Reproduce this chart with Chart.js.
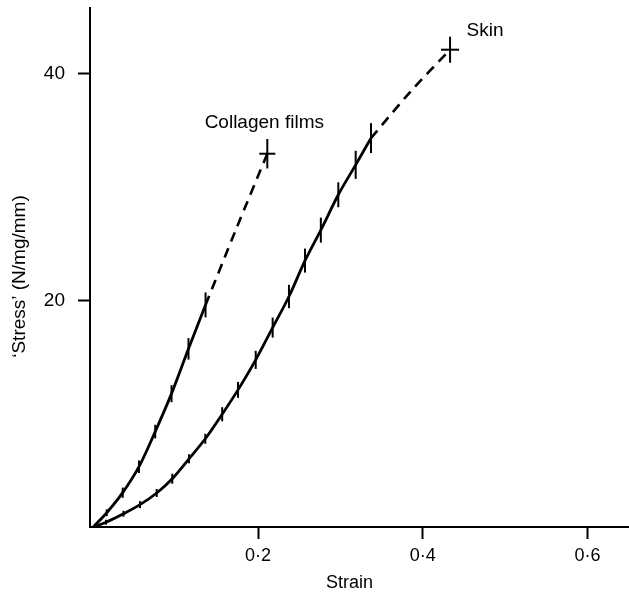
<!DOCTYPE html>
<html>
<head>
<meta charset="utf-8">
<script src="https://cdn.jsdelivr.net/npm/chart.js@4/dist/chart.umd.min.js"></script>
<style>
  html, body { margin: 0; padding: 0; background: #fff; }
  #wrap { width: 629px; height: 594px; position: relative; }
</style>
</head>
<body>
<div id="wrap"><canvas id="chart"></canvas></div>
<script>
// data
const collagenStrain = [0, 0.0163, 0.0357, 0.0555, 0.0752, 0.0950, 0.1156, 0.1363];
const collagenStress = [0, 1.26, 3.03, 5.32, 8.42, 11.77, 15.72, 19.60];
const collagenError  = [0, 0.3, 0.45, 0.55, 0.6, 0.75, 0.95, 1.1];
const collagenDashStrain = [0.1363, 0.1735, 0.2113];
const collagenDashStress = [19.60, 26.30, 32.94];

const skinStrain = [0, 0.0154, 0.0367, 0.0567, 0.0770, 0.0959, 0.1162, 0.1360, 0.1565,
  0.1757, 0.1972, 0.2178, 0.2376, 0.2571, 0.2763, 0.2975, 0.3186, 0.3372];
const skinStress = [0, 0.42, 1.17, 1.97, 3.00, 4.26, 6.02, 7.79, 9.95,
  12.10, 14.75, 17.60, 20.34, 23.51, 26.20, 29.32, 31.96, 34.32];
const skinError  = [0, 0.22, 0.26, 0.31, 0.35, 0.44, 0.4, 0.44, 0.62,
  0.7, 0.8, 0.88, 1.03, 1.06, 1.1, 1.1, 1.24, 1.32];
const skinDashStrain = [0.3372, 0.3854, 0.4332];
const skinDashStress = [34.32, 38.44, 42.12];

// end points drawn as crosses: [collagen, skin]
const endLabels = ["Collagen films", "Skin"];
const endStressError = [1.3, 1.15];
const endStrainError = [0.0097, 0.011];

const xTicks = [0.2, 0.4, 0.6];
const yTicks = [20, 40];
const xTitle = "Strain";
const yTitle = "\u2018Stress\u2019 (N/mg/mm)";

const FONT = "'Liberation Sans', Arial, sans-serif";

function pts(xs, ys) {
  return xs.map((x, i) => ({ x: x, y: ys[i] }));
}

const errorBars = {
  id: "errorBars",
  afterDatasetsDraw(chart) {
    const ctx = chart.ctx;
    const xs = chart.scales.x, ys = chart.scales.y;
    ctx.save();
    ctx.strokeStyle = "#000";
    ctx.lineWidth = 2;
    const vbar = (x, y, e) => {
      if (!e) return;
      const px = xs.getPixelForValue(x);
      ctx.beginPath();
      ctx.moveTo(px, ys.getPixelForValue(y - e));
      ctx.lineTo(px, ys.getPixelForValue(y + e));
      ctx.stroke();
    };
    collagenStrain.forEach((x, i) => vbar(x, collagenStress[i], collagenError[i]));
    skinStrain.forEach((x, i) => vbar(x, skinStress[i], skinError[i]));

    // crosses at the last points and their labels
    const ends = [
      [collagenDashStrain[collagenDashStrain.length - 1], collagenDashStress[collagenDashStress.length - 1]],
      [skinDashStrain[skinDashStrain.length - 1], skinDashStress[skinDashStress.length - 1]]
    ];
    ends.forEach((p, i) => {
      vbar(p[0], p[1], endStressError[i]);
      const py = ys.getPixelForValue(p[1]);
      ctx.beginPath();
      ctx.moveTo(xs.getPixelForValue(p[0] - endStrainError[i]), py);
      ctx.lineTo(xs.getPixelForValue(p[0] + endStrainError[i]), py);
      ctx.stroke();
    });

    ctx.fillStyle = "#000";
    ctx.font = "19px " + FONT;
    ctx.textBaseline = "middle";
    ctx.textAlign = "center";
    let px = xs.getPixelForValue(ends[0][0]), py = ys.getPixelForValue(ends[0][1]);
    ctx.fillText(endLabels[0], px - 3, py - 31);
    px = xs.getPixelForValue(ends[1][0]); py = ys.getPixelForValue(ends[1][1]);
    ctx.fillText(endLabels[1], px + 35, py - 19);

    // axis titles, placed like the original (a bit off the axis centres)
    const area = chart.chartArea;
    ctx.font = "18px " + FONT;
    ctx.fillText(xTitle, (area.left + area.right) / 2 - 10, area.bottom + 56);
    ctx.font = "19px " + FONT;
    ctx.translate(20, (area.top + area.bottom) / 2 + 9);
    ctx.rotate(-Math.PI / 2);
    ctx.fillText(yTitle, 0, 0);
    ctx.restore();
  }
};

const solid = { borderColor: "#000", borderWidth: 2.8, pointRadius: 0, showLine: true,
  fill: false, cubicInterpolationMode: "monotone" };
const dashed = { borderColor: "#000", borderWidth: 2.6, pointRadius: 0, showLine: true,
  fill: false, tension: 0.3, borderDash: [10, 7] };

new Chart(document.getElementById("chart"), {
  type: "scatter",
  data: {
    datasets: [
      Object.assign({ label: "Collagen films", data: pts(collagenStrain, collagenStress) }, solid),
      Object.assign({ label: "Collagen films (extrapolated)", data: pts(collagenDashStrain, collagenDashStress) }, dashed),
      Object.assign({ label: "Skin", data: pts(skinStrain, skinStress) }, solid),
      Object.assign({ label: "Skin (extrapolated)", data: pts(skinDashStrain, skinDashStress) }, dashed)
    ]
  },
  options: {
    responsive: true,
    maintainAspectRatio: false,
    animation: false,
    layout: { padding: { top: 8, left: 0, right: 0, bottom: 0 } },
    plugins: { legend: { display: false }, tooltip: { enabled: false } },
    scales: {
      x: {
        type: "linear",
        min: -0.004,
        max: 0.6505,
        border: { color: "#000", width: 2 },
        grid: { drawOnChartArea: false, drawTicks: true, tickLength: 12, tickWidth: 2, color: "#000" },
        afterBuildTicks: s => { s.ticks = xTicks.map(v => ({ value: v })); },
        afterFit: s => { s.height = 67; s.paddingLeft = 0; s.paddingRight = 0; },
        ticks: {
          color: "#000", padding: 6, font: { family: FONT, size: 18 },
          callback: v => v.toFixed(1).replace(".", "\u00b7")
        },
        title: { display: false }
      },
      y: {
        type: "linear",
        min: 0,
        max: 45.8,
        border: { color: "#000", width: 2 },
        grid: { drawOnChartArea: false, drawTicks: true, tickLength: 12, tickWidth: 2, color: "#000" },
        afterBuildTicks: s => { s.ticks = yTicks.map(v => ({ value: v })); },
        afterFit: s => { s.width = 90; s.paddingTop = 0; s.paddingBottom = 0; },
        ticks: { color: "#000", padding: 13, font: { family: FONT, size: 19 } },
        title: { display: false }
      }
    }
  },
  plugins: [errorBars]
});
</script>
</body>
</html>
